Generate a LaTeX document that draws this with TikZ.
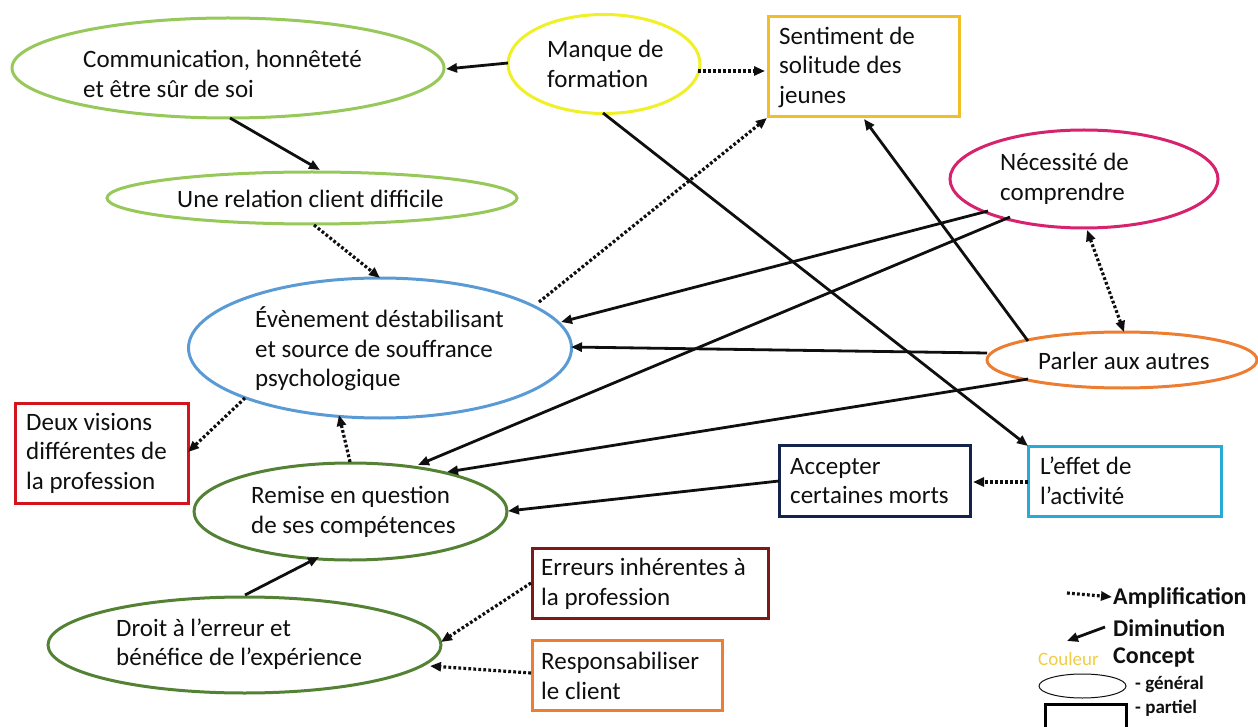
\documentclass[tikz,border=0pt]{standalone}
\usepackage{fontspec}
\setmainfont{Carlito}
\usetikzlibrary{arrows.meta,shapes.geometric,calc}
\definecolor{ink}{RGB}{15,15,15}
\definecolor{lgreen}{RGB}{150,200,90}
\definecolor{dgreen}{RGB}{84,130,53}
\definecolor{cyellow}{RGB}{240,240,40}
\definecolor{cgold}{RGB}{240,190,40}
\definecolor{cmag}{RGB}{215,35,110}
\definecolor{cblue}{RGB}{91,155,213}
\definecolor{corange}{RGB}{237,125,49}
\definecolor{cred}{RGB}{210,20,30}
\definecolor{cnavy}{RGB}{20,35,75}
\definecolor{ccyan}{RGB}{40,170,215}
\definecolor{cdred}{RGB}{125,25,25}
\definecolor{cleg}{RGB}{240,205,70}
\begin{document}
\begin{tikzpicture}[x=1pt,y=-1pt,
  outline/.style={line width=3pt, inner sep=0pt, outer sep=0pt},
  ell/.style={outline, ellipse},
  box/.style={outline, rectangle},
  lbl/.style={inner sep=0pt, anchor=west, align=left, text=ink, font=\fontsize{25}{29.5}\selectfont},
  leg/.style={inner sep=0pt, anchor=west, text=ink, font=\fontsize{24}{29}\selectfont\bfseries},
  legs/.style={inner sep=0pt, anchor=west, text=ink, font=\fontsize{19}{22}\selectfont\bfseries},
  dim/.style={-{Triangle[length=11pt,width=9pt]}, line width=2.8pt, draw=ink},
  amp/.style={dim, line width=3.2pt, dash pattern=on 2.8pt off 2.2pt},
  ampb/.style={amp, {Triangle[length=11pt,width=9pt]}-{Triangle[length=11pt,width=9pt]}}]
\useasboundingbox (0,0) rectangle (1258,727);

% shapes
\node[ell, draw=lgreen, minimum width=432pt, minimum height=100pt] (commun) at (228,68) {};
\node[ell, draw=cyellow, minimum width=192pt, minimum height=99pt] (manque) at (604,64) {};
\node[box, draw=cgold, minimum width=191pt, minimum height=100pt] (sent) at (863.5,67) {};
\node[ell, draw=lgreen, minimum width=410pt, minimum height=52pt] (unerel) at (312,198) {};
\node[ell, draw=cmag, minimum width=268pt, minimum height=98pt] (nec) at (1084,179) {};
\node[ell, draw=cblue, minimum width=383pt, minimum height=140pt] (eve) at (380,348) {};
\node[ell, draw=corange, minimum width=270pt, minimum height=56pt] (parler) at (1122,360) {};
\node[box, draw=cred, minimum width=173pt, minimum height=100pt] (deux) at (101.5,453) {};
\node[ell, draw=dgreen, minimum width=313pt, minimum height=97pt] (remise) at (350.5,511.5) {};
\node[box, draw=cnavy, minimum width=191pt, minimum height=71pt] (accept) at (874.5,480.5) {};
\node[box, draw=ccyan, minimum width=193pt, minimum height=70pt] (effet) at (1124.5,481) {};
\node[box, draw=cdred, minimum width=236pt, minimum height=70pt] (err) at (650,583) {};
\node[box, draw=corange, minimum width=190pt, minimum height=70pt] (resp) at (627,675) {};
\node[ell, draw=dgreen, minimum width=393pt, minimum height=96pt] (droit) at (244.5,645) {};

% texts
\node[lbl] (tcommun) at (83,74) {Communication, honnêteté\\et être sûr de soi};
\node[lbl] (tmanque) at (547,64) {Manque de\\formation};
\node[lbl] (tsent) at (779,67) {Sentiment de\\solitude des\\jeunes};
\node[lbl] (tunerel) at (177,199) {Une relation client difficile};
\node[lbl] (tnec) at (1000,179) {Nécessité de\\comprendre};
\node[lbl] (teve) at (255,349) {Évènement déstabilisant\\et source de souffrance\\psychologique};
\node[lbl] (tparler) at (1038,361) {Parler aux autres};
\node[lbl] (tdeux) at (26,453) {Deux visions\\différentes de\\la profession};
\node[lbl] (tremise) at (251,512) {Remise en question\\de ses compétences};
\node[lbl] (taccept) at (790,481) {Accepter\\certaines morts};
\node[lbl] (teffet) at (1040,481) {L’effet de\\l’activité};
\node[lbl] (terr) at (541,584) {Erreurs inhérentes à\\la profession};
\node[lbl] (tresp) at (541,676) {Responsabiliser\\le client};
\node[lbl] (tdroit) at (116,644) {Droit à l’erreur et\\bénéfice de l’expérience};

% connectors
\draw[dim] ($(manque.center)+(-96,-1)$) -- ($(commun.center)+(218,1)$);
\draw[amp] ($(manque.center)+(94,7)$) -- ($(sent.center)+(-98.5,4)$);
\draw[dim] ($(commun.center)+(2,50)$) -- ($(unerel.center)+(8,-28)$);
\draw[amp] ($(unerel.center)+(2,27)$) -- ($(eve.center)+(0,-70)$);
\draw[amp] ($(eve.center)+(159,-46)$) -- ($(sent.center)+(-96.5,51)$);
\draw[dim] ($(manque.center)+(-1,49)$) -- ($(effet.center)+(-96.5,-35)$);
\draw[dim] ($(nec.center)+(-96,32)$) -- ($(eve.center)+(181,-26)$);
\draw[dim] ($(nec.center)+(-74,38)$) -- ($(remise.center)+(67.5,-46.5)$);
\draw[ampb] ($(nec.center)+(3,51)$) -- ($(parler.center)+(2,-28)$);
\draw[dim] ($(parler.center)+(-94,-19)$) -- ($(sent.center)+(0.5,52)$);
\draw[dim] ($(parler.center)+(-135,-7)$) -- ($(eve.center)+(191,-1)$);
\draw[dim] ($(parler.center)+(-94,19)$) -- ($(remise.center)+(96.5,-39.5)$);
\draw[amp] ($(effet.center)+(-96.5,1)$) -- ($(accept.center)+(98.5,1.5)$);
\draw[dim] ($(accept.center)+(-95.5,0.5)$) -- ($(remise.center)+(157.5,-0.5)$);
\draw[amp] ($(eve.center)+(-135,50)$) -- ($(deux.center)+(86.5,-1)$);
\draw[amp] ($(remise.center)+(-0.5,-49.5)$) -- ($(eve.center)+(-41,67)$);
\draw[dim] ($(droit.center)+(0.5,-50)$) -- ($(remise.center)+(-31.5,45.5)$);
\draw[amp] ($(err.center)+(-119,0)$) -- ($(droit.center)+(196.5,-3)$);
\draw[amp] ($(resp.center)+(-96,-2)$) -- ($(droit.center)+(185.5,21)$);

% legend
\coordinate (la1) at (1067,593);
\coordinate (la2) at (1112,597);
\coordinate (ld1) at (1105,627);
\coordinate (ld2) at (1067,641);
\draw[amp] (la1) -- (la2);
\draw[dim] (ld1) -- (ld2);
\node[leg] (lamp) at (1113,598) {Amplification};
\node[leg] (ldim) at (1113,628) {Diminution};
\node[inner sep=0pt, anchor=west, text=cleg, font=\fontsize{19}{22}\selectfont] (lcoul) at (1038,659) {Couleur};
\node[leg] (lconc) at (1113,658) {Concept};
\node[ellipse, draw=ink, line width=1pt, inner sep=0pt, minimum width=87pt, minimum height=24pt] (lell) at (1082.5,686) {};
\node[legs] (lgen) at (1135,684) {- général};
\node[rectangle, draw=black, line width=3pt, inner sep=0pt, minimum width=81pt, minimum height=40pt] (lrect) at (1085.5,724) {};
\node[legs] (lpart) at (1135,708) {- partiel};
\end{tikzpicture}
\end{document}
